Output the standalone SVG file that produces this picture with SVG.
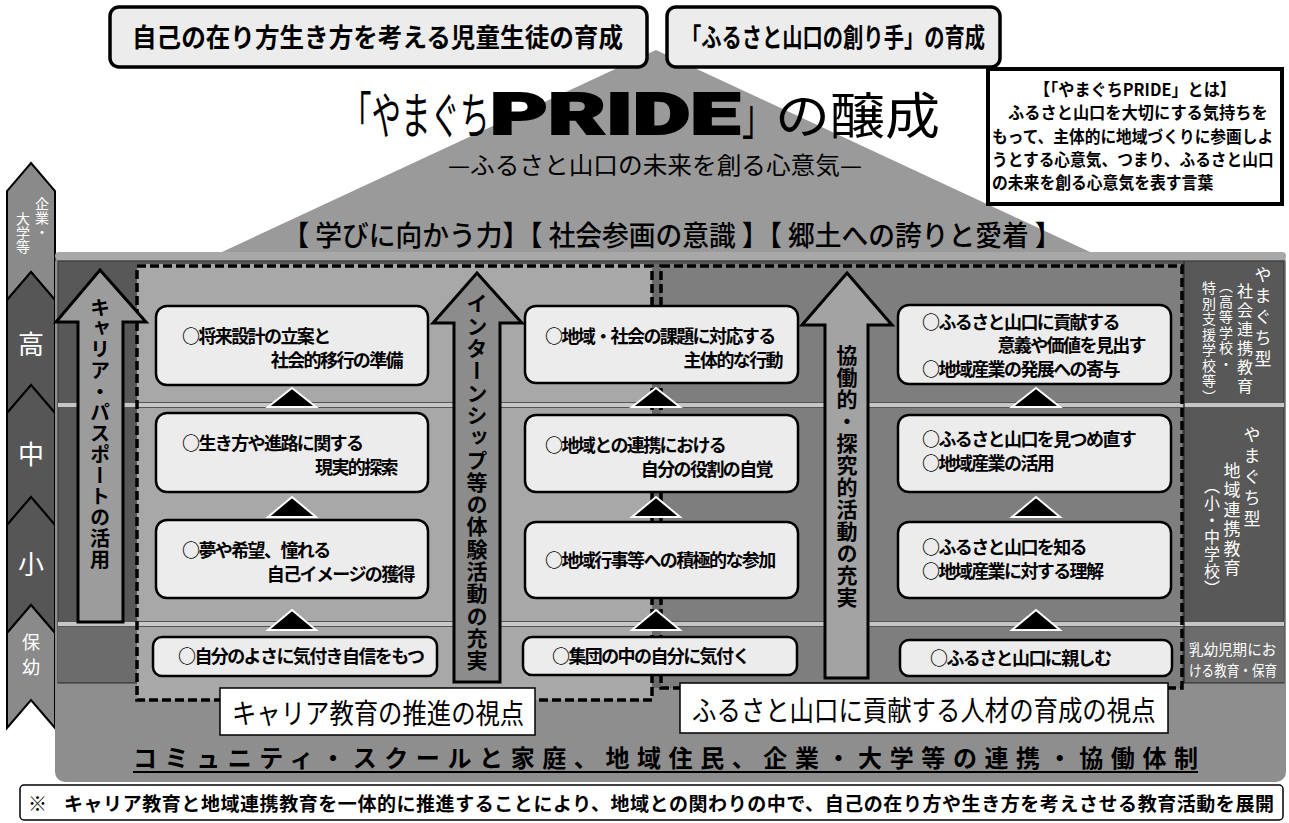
<svg xmlns="http://www.w3.org/2000/svg" width="1289" height="823" viewBox="0 0 1289 823">
<defs>
<style>
text{font-family:"Noto Sans CJK JP","Noto Sans CJK SC",sans-serif;}
.b{font-weight:700;}
.m{font-weight:500;}
.topbox{fill:#ececec;stroke:#000;stroke-width:3.5;}
.box{fill:#ececec;stroke:#000;stroke-width:2.5;}
.tri{fill:#000;stroke:#fff;stroke-width:2;}
.dash{fill:none;stroke:#000;stroke-width:3.5;stroke-dasharray:9 4;}
.vt{writing-mode:vertical-rl;}
.w{fill:#fff;}
.bt{font-size:18px;font-weight:700;letter-spacing:-1.6px;}
.arrow{stroke:#000;stroke-width:3;}
.chev{stroke:#000;stroke-width:2;}
.sep{fill:#c6c6c6;}
</style>
</defs>
<rect width="1289" height="823" fill="#fff"/>

<!-- pyramid -->
<polygon points="656,50 1090,252 222,252" fill="#9a9a9a"/>

<g id="goal1"><rect class="topbox" x="110" y="7" width="537" height="60" rx="9"/>
<text transform="translate(132,47) scale(0.946,1)" x="0" y="0" font-size="26" class="b">自己の在り方生き方を考える児童生徒の育成</text></g>
<g id="goal2"><rect class="topbox" x="667" y="7" width="333" height="60" rx="9"/>
<text transform="translate(681,47) scale(0.78,1)" x="0" y="0" font-size="26" class="b">「ふるさと山口の創り手」の育成</text></g>

<g id="info"><rect x="988" y="69" width="294" height="135" fill="#fff" stroke="#000" stroke-width="4"/>
<text transform="translate(1135,96) scale(0.95,1)" x="0" y="0" font-size="17" class="b" text-anchor="middle">【「やまぐちPRIDE」とは】</text>
<text transform="translate(1008,119) scale(0.955,1)" x="0" y="0" font-size="17" class="b">ふるさと山口を大切にする気持ちを</text>
<text transform="translate(992,143) scale(0.925,1)" x="0" y="0" font-size="17" class="b">もって、主体的に地域づくりに参画しよ</text>
<text transform="translate(992,166) scale(0.925,1)" x="0" y="0" font-size="17" class="b">うとする心意気、つまり、ふるさと山口</text>
<text transform="translate(992,189) scale(0.93,1)" x="0" y="0" font-size="17" class="b">の未来を創る心意気を表す言葉</text></g>

<g id="title">
<text transform="translate(342,134) scale(0.59,1)" x="0" y="0" font-size="50">「やまぐち</text>
<text x="490" y="134" font-size="57" font-weight="900" style="font-family:Roboto,Inter,'Liberation Sans',sans-serif" stroke="#000" stroke-width="2" textLength="250" lengthAdjust="spacingAndGlyphs">PRIDE</text>
<text transform="translate(742,134) scale(0.6,1)" x="0" y="0" font-size="50">」</text>
<text transform="translate(775,134) scale(1.1,1)" x="0" y="0" font-size="50">の醸成</text>
<text x="655" y="174" font-size="24" text-anchor="middle" textLength="414" lengthAdjust="spacingAndGlyphs">—ふるさと山口の未来を創る心意気—</text>
<text x="672" y="246" font-size="28" class="m" text-anchor="middle" textLength="779" lengthAdjust="spacingAndGlyphs">【 学びに向かう力】【 社会参画の意識 】【 郷土への誇りと愛着 】</text>
</g>

<!-- chevron column -->
<g id="stages">
<polygon class="chev" points="31,163 55,191 55,300 31,272 7,300 7,191" fill="#8a8a8a"/>
<polygon class="chev" points="31,272 55,300 55,413 31,385 7,413 7,300" fill="#565656"/>
<polygon class="chev" points="31,385 55,413 55,525 31,497 7,525 7,413" fill="#565656"/>
<polygon class="chev" points="31,497 55,525 55,633 31,605 7,633 7,525" fill="#565656"/>
<polygon class="chev" points="31,605 55,633 55,728 31,700 7,728 7,633" fill="#8a8a8a"/>
<text class="vt w" x="42" y="197" font-size="14">企業・</text>
<text class="vt w" x="23" y="212" font-size="14">大学等</text>
<text class="w" x="31" y="354" font-size="26" text-anchor="middle">高</text>
<text class="w" x="31" y="464" font-size="26" text-anchor="middle">中</text>
<text class="w" x="31" y="574" font-size="26" text-anchor="middle">小</text>
<text class="w" x="31" y="649" font-size="18" text-anchor="middle">保</text>
<text class="w" x="31" y="674" font-size="18" text-anchor="middle">幼</text>
</g>

<!-- main panel -->
<g id="panel">
<rect x="55" y="252" width="1231" height="530" rx="10" fill="#8e8e8e"/>
<rect x="55" y="252" width="1231" height="8" rx="4" fill="#a8a8a8"/>
<rect x="58" y="261" width="1226" height="422" fill="#585858" stroke="#333" stroke-width="1"/>
<rect x="58" y="626" width="79" height="56" fill="#6c6c6c"/>
<rect x="1185" y="626" width="99" height="56" fill="#6c6c6c"/>
<rect x="137" y="264" width="515" height="436" fill="#a8a8a8"/>
<rect x="652" y="264" width="9" height="424" fill="#6a6a6a"/>
<rect x="661" y="264" width="521" height="424" fill="#7e7e7e"/>
<rect class="sep" x="58" y="403" width="1226" height="4"/>
<rect class="sep" x="58" y="622" width="1226" height="4"/>
<line x1="58" y1="402.5" x2="1284" y2="402.5" stroke="#555" stroke-width="1"/>
<line x1="58" y1="407.5" x2="1284" y2="407.5" stroke="#555" stroke-width="1"/>
<line x1="58" y1="621.5" x2="1284" y2="621.5" stroke="#555" stroke-width="1"/>
<line x1="58" y1="626.5" x2="1284" y2="626.5" stroke="#555" stroke-width="1"/>
<line x1="1184" y1="261" x2="1184" y2="683" stroke="#333" stroke-width="1.5"/>
</g>

<g id="regions">
<rect class="dash" x="137" y="266" width="515" height="434"/>
<rect class="dash" x="661" y="266" width="521" height="422"/>
</g>

<g id="side-labels">
<text class="vt w" x="1263" y="266" font-size="17" letter-spacing="4">やまぐち型</text>
<text class="vt w" x="1245" y="283" font-size="16" letter-spacing="3">社会連携教育</text>
<text class="vt w" x="1226" y="279" font-size="14" letter-spacing="1.5">（高等学校・</text>
<text class="vt w" x="1209" y="281" font-size="14" letter-spacing="1.5">特別支援学校等）</text>
<text class="vt w" x="1252" y="426" font-size="17" letter-spacing="4">やまぐち型</text>
<text class="vt w" x="1232" y="462" font-size="17" letter-spacing="2.5">地域連携教育</text>
<text class="vt w" x="1212" y="478" font-size="16" letter-spacing="1">（小・中学校）</text>
<text class="w" transform="translate(1189,655) scale(0.97,1)" x="0" y="0" font-size="15">乳幼児期にお</text>
<text class="w" transform="translate(1189,676) scale(0.84,1)" x="0" y="0" font-size="15">ける教育・保育</text>
</g>

<g id="arrows">
<path class="arrow" d="M100,270 L146,322 L123,322 L123,622 L78,622 L78,322 L56,322 Z" fill="#9c9c9c"/>
<text class="vt b" x="100" y="297" font-size="20" letter-spacing="1">キャリア・パスポートの活用</text>
<path class="arrow" d="M477,273 L522,323 L500,323 L500,682 L454,682 L454,323 L433,323 Z" fill="#8c8c8c"/>
<text class="vt b" x="477" y="293" font-size="21" letter-spacing="1.3">インターンシップ等の体験活動の充実</text>
<path class="arrow" d="M847,273 L892,325 L868,325 L868,678 L825,678 L825,325 L802,325 Z" fill="#a3a3a3"/>
<text class="vt b" x="847" y="345" font-size="21" letter-spacing="1">協働的・探究的活動の充実</text>
</g>

<g id="triangles">
<polygon class="tri" points="292,388 316,407 268,407"/>
<polygon class="tri" points="292,497 316,517 268,517"/>
<polygon class="tri" points="292,610 316,630 268,630"/>
<polygon class="tri" points="656,388 680,407 632,407"/>
<polygon class="tri" points="656,497 680,517 632,517"/>
<polygon class="tri" points="656,610 680,630 632,630"/>
<polygon class="tri" points="1036,388 1060,407 1012,407"/>
<polygon class="tri" points="1036,497 1060,517 1012,517"/>
<polygon class="tri" points="1036,610 1060,630 1012,630"/>
</g>

<g id="career-high"><rect class="box" x="156" y="306" width="272" height="79" rx="11"/>
<text class="bt" x="182" y="343">○将来設計の立案と</text>
<text class="bt" x="402" y="367" text-anchor="end">社会的移行の準備</text></g>
<g id="career-mid"><rect class="box" x="156" y="413" width="272" height="79" rx="11"/>
<text class="bt" x="182" y="450">○生き方や進路に関する</text>
<text class="bt" x="397" y="474" text-anchor="end">現実的探索</text></g>
<g id="career-ele"><rect class="box" x="156" y="520" width="272" height="78" rx="11"/>
<text class="bt" x="182" y="557">○夢や希望、憧れる</text>
<text class="bt" x="414" y="581" text-anchor="end">自己イメージの獲得</text></g>
<g id="career-pre"><rect class="box" x="153" y="637" width="284" height="39" rx="9"/>
<text class="bt" x="178" y="663">○自分のよさに気付き自信をもつ</text></g>

<g id="social-high"><rect class="box" x="525" y="306" width="273" height="77" rx="11"/>
<text class="bt" x="545" y="343">○地域・社会の課題に対応する</text>
<text class="bt" x="782" y="367" text-anchor="end">主体的な行動</text></g>
<g id="social-mid"><rect class="box" x="525" y="415" width="273" height="77" rx="11"/>
<text class="bt" x="545" y="452">○地域との連携における</text>
<text class="bt" x="772" y="476" text-anchor="end">自分の役割の自覚</text></g>
<g id="social-ele"><rect class="box" x="525" y="522" width="273" height="76" rx="11"/>
<text class="bt" x="545" y="567">○地域行事等への積極的な参加</text></g>
<g id="social-pre"><rect class="box" x="523" y="637" width="274" height="38" rx="9"/>
<text class="bt" x="552" y="663">○集団の中の自分に気付く</text></g>

<g id="home-high"><rect class="box" x="898" y="305" width="273" height="79" rx="11"/>
<text class="bt" x="922" y="329">○ふるさと山口に貢献する</text>
<text class="bt" x="1145" y="352" text-anchor="end">意義や価値を見出す</text>
<text class="bt" x="922" y="376">○地域産業の発展への寄与</text></g>
<g id="home-mid"><rect class="box" x="898" y="415" width="273" height="77" rx="11"/>
<text class="bt" x="922" y="446">○ふるさと山口を見つめ直す</text>
<text class="bt" x="922" y="470">○地域産業の活用</text></g>
<g id="home-ele"><rect class="box" x="898" y="522" width="273" height="76" rx="11"/>
<text class="bt" x="922" y="554">○ふるさと山口を知る</text>
<text class="bt" x="922" y="578">○地域産業に対する理解</text></g>
<g id="home-pre"><rect class="box" x="900" y="640" width="272" height="36" rx="9"/>
<text class="bt" x="930" y="665">○ふるさと山口に親しむ</text></g>

<g id="view-labels">
<rect x="220" y="688" width="315" height="47" fill="#fff" stroke="#000" stroke-width="1.5"/>
<text transform="translate(232,724) scale(0.87,1)" x="0" y="0" font-size="28">キャリア教育の推進の視点</text>
<rect x="680" y="683" width="488" height="50" fill="#fff" stroke="#000" stroke-width="1.5"/>
<text transform="translate(692,721) scale(0.872,1)" x="0" y="0" font-size="28">ふるさと山口に貢献する人材の育成の視点</text>
</g>

<g id="community">
<text x="133" y="767" font-size="24" class="b" textLength="1065" lengthAdjust="spacing">コミュニティ・スクールと家庭、地域住民、企業・大学等の連携・協働体制</text>
<line x1="133" y1="772" x2="1198" y2="772" stroke="#000" stroke-width="2"/>
</g>

<g id="note">
<rect x="20" y="785" width="1263" height="35" rx="4" fill="#fff" stroke="#000" stroke-width="1.5"/>
<text x="28" y="811" font-size="19" class="b">※</text>
<text x="64" y="811" font-size="19" class="b" textLength="1210" lengthAdjust="spacing">キャリア教育と地域連携教育を一体的に推進することにより、地域との関わりの中で、自己の在り方や生き方を考えさせる教育活動を展開</text>
</g>
</svg>
